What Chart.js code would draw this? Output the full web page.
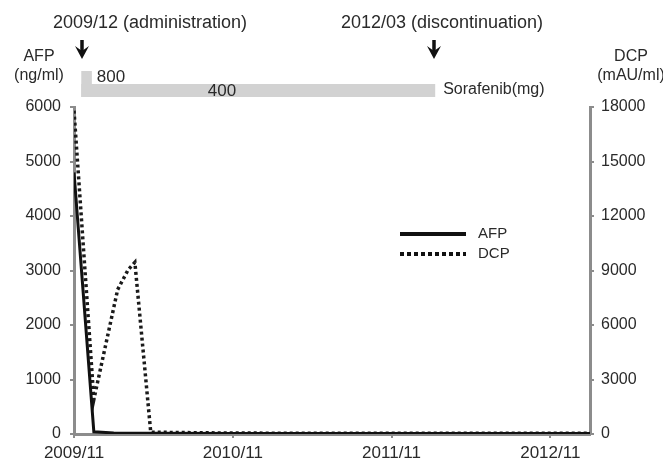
<!DOCTYPE html>
<html>
<head>
<meta charset="utf-8">
<script src="https://cdn.jsdelivr.net/npm/chart.js@4"></script>
<style>
  html,body{margin:0;padding:0;background:#fff;}
  #wrap{width:663px;height:466px;position:relative;}
</style>
</head>
<body>
<div id="wrap"><canvas id="c" width="663" height="466"></canvas></div>
<script>
// ---- Data (months since 2009/11) ----
const xTickMonths = [0, 12, 24, 36];
const xTickLabels = ['2009/11', '2010/11', '2011/11', '2012/11'];
const afpMonths = [0, 1.5, 3, 6, 12, 24, 36, 39];
const afpValues = [4800, 40, 20, 15, 10, 10, 10, 10];
const dcpMonths = [0, 1.5, 3.3, 4.1, 4.6, 5.8, 12, 24, 36, 39];
const dcpValues = [17800, 1900, 7950, 9050, 9450, 100, 50, 40, 40, 40];
// Sorafenib treatment timeline (months) and doses (mg)
const doseStarts = [0.55, 0.55];
const doseEnds = [1.35, 27.3];
const doseValues = [800, 400];
const eventMonths = [0.6, 27.2];
const eventLabels = ['2009/12 (administration)', '2012/03 (discontinuation)'];

const FONT = '"Liberation Sans", Arial, sans-serif';
const TXT = '#2a2a2a';
const AX = '#8c8c8c';

const annot = {
  id: 'annot',
  afterDraw(chart) {
    const ctx = chart.ctx;
    const x = chart.scales.x;
    ctx.save();
    ctx.fillStyle = TXT;
    ctx.textBaseline = 'middle';
    // event labels and arrows
    ctx.font = '18px ' + FONT;
    ctx.textAlign = 'center';
    const labelCenters = [150, 442];
    eventMonths.forEach((m, i) => {
      ctx.fillText(eventLabels[i], labelCenters[i], 23);
      const px = Math.round(x.getPixelForValue(m));
      ctx.strokeStyle = '#111';
      ctx.lineWidth = 3.5;
      ctx.beginPath(); ctx.moveTo(px, 40); ctx.lineTo(px, 52); ctx.stroke();
      ctx.fillStyle = '#111';
      ctx.beginPath();
      ctx.moveTo(px - 7, 46); ctx.lineTo(px, 51); ctx.lineTo(px + 7, 46);
      ctx.lineTo(px, 59); ctx.closePath(); ctx.fill();
      ctx.fillStyle = TXT;
    });
    // dose bar
    ctx.fillStyle = '#d2d2d2';
    const b0 = x.getPixelForValue(doseStarts[0]), b1 = x.getPixelForValue(doseEnds[0]);
    ctx.fillRect(b0, 71, b1 - b0, 26);
    const c0 = x.getPixelForValue(doseStarts[1]), c1 = x.getPixelForValue(doseEnds[1]);
    ctx.fillRect(c0, 84, c1 - c0, 13);
    ctx.fillStyle = TXT;
    ctx.font = '17px ' + FONT;
    ctx.textAlign = 'left';
    ctx.fillText(String(doseValues[0]), b1 + 5, 77);
    ctx.textAlign = 'center';
    ctx.fillText(String(doseValues[1]), 222, 91);
    ctx.textAlign = 'left';
    ctx.font = '16px ' + FONT;
    ctx.fillText('Sorafenib(mg)', c1 + 8, 90);
    // axis titles
    ctx.textAlign = 'center';
    ctx.font = '16px ' + FONT;
    ctx.fillText('AFP', 39, 57);
    ctx.fillText('(ng/ml)', 39, 76);
    ctx.fillText('DCP', 631, 57);
    ctx.fillText('(mAU/ml)', 631, 76);
    // legend
    ctx.strokeStyle = '#111';
    ctx.lineWidth = 4;
    ctx.beginPath(); ctx.moveTo(400, 234); ctx.lineTo(466, 234); ctx.stroke();
    ctx.setLineDash([4, 3]);
    ctx.beginPath(); ctx.moveTo(400, 254); ctx.lineTo(466, 254); ctx.stroke();
    ctx.setLineDash([]);
    ctx.textAlign = 'left';
    ctx.font = '15px ' + FONT;
    ctx.fillText('AFP', 478, 234);
    ctx.fillText('DCP', 478, 254);
    ctx.restore();
  }
};

new Chart(document.getElementById('c'), {
  type: 'line',
  data: {
    datasets: [
      {
        label: 'AFP',
        data: afpMonths.map((m, i) => ({x: m, y: afpValues[i]})),
        yAxisID: 'y',
        borderColor: '#111',
        borderWidth: 3,
        pointRadius: 0,
        tension: 0
      },
      {
        label: 'DCP',
        data: dcpMonths.map((m, i) => ({x: m, y: dcpValues[i]})),
        yAxisID: 'y1',
        borderColor: '#1a1a1a',
        borderWidth: 3.5,
        borderDash: [3, 3],
        pointRadius: 0,
        tension: 0
      }
    ]
  },
  options: {
    responsive: false,
    animation: false,
    layout: {padding: {top: 107, left: 0, right: 0, bottom: 0}},
    plugins: {legend: {display: false}, tooltip: {enabled: false}},
    scales: {
      x: {
        type: 'linear',
        min: 0, max: 39,
        afterBuildTicks: s => { s.ticks = xTickMonths.map(v => ({value: v})); },
        afterFit: s => { s.height = 32; },
        ticks: {
          callback: v => xTickLabels[xTickMonths.indexOf(v)] || '',
          color: TXT, font: {family: FONT, size: 17}, maxRotation: 0, padding: 5
        },
        grid: {drawOnChartArea: false, color: AX, tickLength: 4, lineWidth: 2},
        border: {color: AX, width: 3}
      },
      y: {
        position: 'left',
        min: 0, max: 6000,
        afterFit: s => { s.width = 74; },
        ticks: {stepSize: 1000, callback: v => String(v), color: TXT, font: {family: FONT, size: 16}, padding: 9},
        grid: {drawOnChartArea: false, color: AX, tickLength: 4, lineWidth: 2},
        border: {color: AX, width: 3}
      },
      y1: {
        position: 'right',
        min: 0, max: 18000,
        afterFit: s => { s.width = 73; },
        ticks: {stepSize: 3000, callback: v => String(v), color: TXT, font: {family: FONT, size: 16}, padding: 7},
        grid: {drawOnChartArea: false, color: AX, tickLength: 4, lineWidth: 2},
        border: {color: AX, width: 3}
      }
    }
  },
  plugins: [annot]
});
</script>
</body>
</html>
